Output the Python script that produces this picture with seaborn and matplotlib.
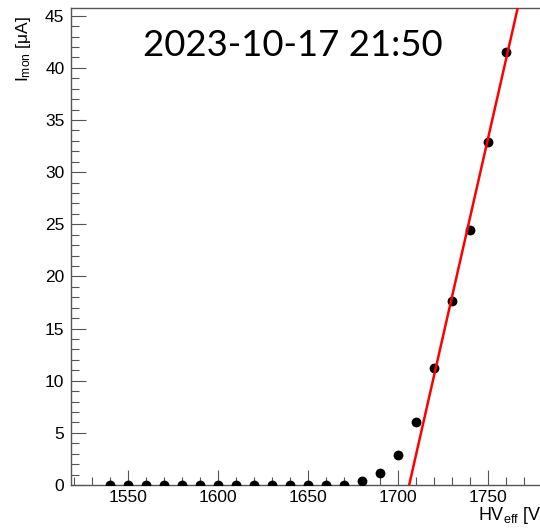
import numpy as np
import pandas as pd
import matplotlib
matplotlib.use("Agg")
import matplotlib.pyplot as plt
import seaborn as sns
from matplotlib.ticker import MultipleLocator

# ---- data ----
hv_eff = [1540, 1550, 1560, 1570, 1580, 1590, 1600, 1610, 1620, 1630, 1640, 1650,
          1660, 1670, 1680, 1690, 1700, 1710, 1720, 1730, 1740, 1750, 1760]
i_mon = [0.0, 0.0, 0.0, 0.0, 0.0, 0.0, 0.0, 0.0, 0.0, 0.0, 0.0, 0.0,
         0.0, 0.0, 0.41, 1.12, 2.88, 6.04, 11.22, 17.67, 24.5, 32.86, 41.5]
fit_range = [1720, 1760]
x_ticks = [1550, 1600, 1650, 1700, 1750]
y_ticks = [0, 5, 10, 15, 20, 25, 30, 35, 40, 45]
title_text = "2023-10-17 21:50"

sns.set_theme(style="white")
plt.rcParams['font.family'] = ['Liberation Sans', 'DejaVu Sans']
plt.rcParams['mathtext.fontset'] = 'custom'
plt.rcParams['mathtext.rm'] = 'Liberation Sans'
plt.rcParams['mathtext.it'] = 'Liberation Sans'

df = pd.DataFrame({"hv": hv_eff, "imon": i_mon})

fig = plt.figure(figsize=(5.4, 5.3), dpi=100)
fig.patch.set_facecolor("white")
W, H = 540.0, 530.0
x0, x1, ytop, ybot = 70.7, 545.3, 8.0, 485.0
ax = fig.add_axes([x0 / W, 1 - ybot / H, (x1 - x0) / W, (ybot - ytop) / H])
ax.set_facecolor("white")

# linear fit over the top points
sub = df[(df.hv >= fit_range[0]) & (df.hv <= fit_range[1])]
slope, intercept = np.polyfit(sub.hv, sub.imon, 1)
fx = np.array([1700.0, 1782.0])
fit_df = pd.DataFrame({"hv": fx, "imon": slope * fx + intercept})

sns.scatterplot(data=df, x="hv", y="imon", ax=ax, color="black", s=50,
                edgecolor="black", linewidth=0, zorder=3)
sns.lineplot(data=fit_df, x="hv", y="imon", ax=ax, color="#ff0000",
             linewidth=1.8, zorder=4)

ax.set_xlim(1518, 1782)
ax.set_ylim(0, 45.74)
ax.set_xticks(x_ticks)
ax.set_yticks(y_ticks)
ax.xaxis.set_minor_locator(MultipleLocator(10))
ax.yaxis.set_minor_locator(MultipleLocator(1))

axc = "#555555"
for s in ax.spines.values():
    s.set_color(axc)
    s.set_linewidth(1.0)

ax.tick_params(axis="both", which="major", direction="in", length=10.8, width=0.8,
               color=axc, labelsize=12.5, labelcolor="black")
ax.tick_params(axis="both", which="minor", direction="in", length=5.8, width=0.8,
               color=axc)
ax.tick_params(axis="x", which="both", bottom=True, top=False, pad=3.5)
ax.tick_params(axis="y", which="both", left=True, right=False, pad=4.5)

ax.set_xlabel(r"HV$_{\mathrm{eff}}$ [V]", fontsize=13, ha="right", color="black")
ax.xaxis.set_label_coords(1.0, -0.042)
ax.set_ylabel(r"I$_{\mathrm{mon}}$ [μA]", fontsize=12.5, ha="right", color="black")
ax.yaxis.set_label_coords(-0.079, 0.983)

fig.text(292.7 / W, 1 - 55.7 / H, title_text, fontsize=26.3, family=["Lato", "DejaVu Sans"],
         ha="center", va="baseline", color="black")

fig.savefig("out.png", dpi=100, facecolor="white")
